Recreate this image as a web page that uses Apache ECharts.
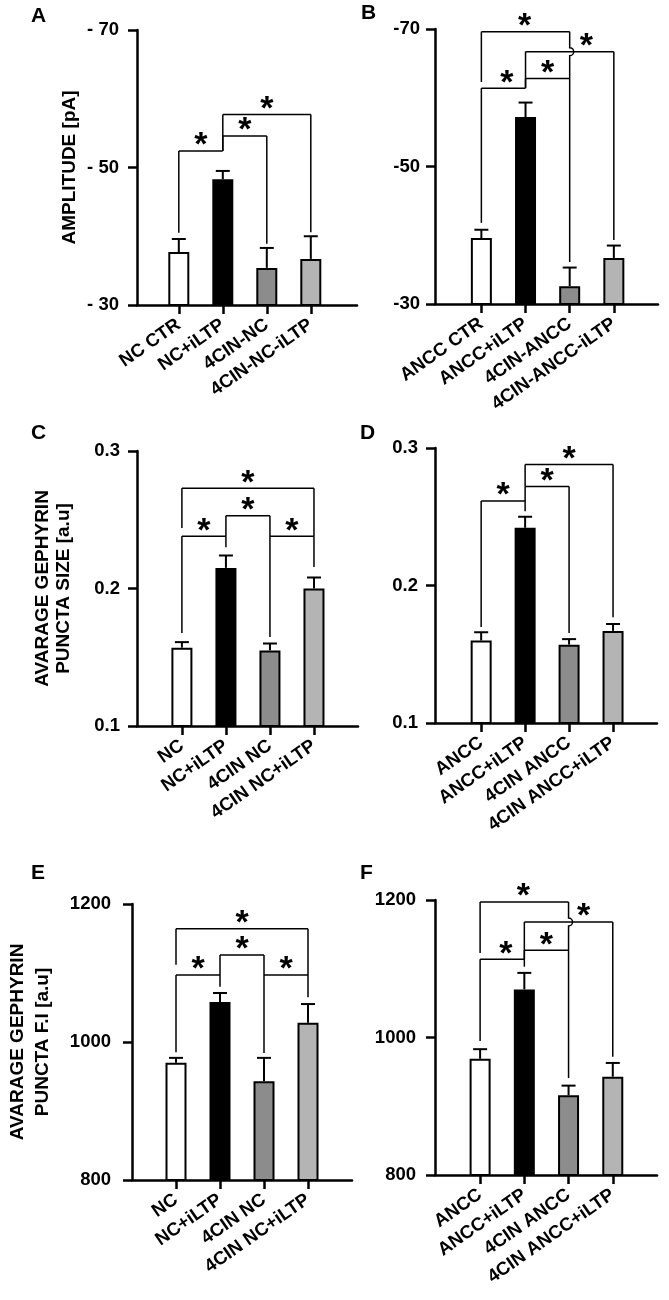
<!DOCTYPE html>
<html>
<head>
<meta charset="utf-8">
<script src="https://cdn.jsdelivr.net/npm/echarts@6.0.0/dist/echarts.min.js"></script>
<style>
    html, body { margin: 0; padding: 0; background: #fff; }
    #chart { width: 669px; height: 1300px; }
</style>
</head>
<body>
<div id="chart"></div>
<script>
// ---- data ----
var catsA = ['NC CTR', 'NC+iLTP', '4CIN-NC', '4CIN-NC-iLTP'];
var meanA = [-37.7, -48.3, -35.4, -36.7];
var semA = [1.9, 1.2, 2.9, 3.3];
var ticksA = [-70, -50, -30];

var catsB = ['ANCC CTR', 'ANCC+iLTP', '4CIN-ANCC', '4CIN-ANCC-iLTP'];
var meanB = [-39.6, -57.2, -32.6, -36.7];
var semB = [1.2, 2.1, 2.7, 1.8];
var ticksB = [-70, -50, -30];

var catsC = ['NC', 'NC+iLTP', '4CIN NC', '4CIN NC+iLTP'];
var meanC = [0.157, 0.215, 0.155, 0.200];
var semC = [0.004, 0.009, 0.005, 0.008];
var ticksC = [0.1, 0.2, 0.3];

var catsD = ['ANCC', 'ANCC+iLTP', '4CIN ANCC', '4CIN ANCC+iLTP'];
var meanD = [0.160, 0.242, 0.157, 0.167];
var semD = [0.006, 0.008, 0.004, 0.005];
var ticksD = [0.1, 0.2, 0.3];

var catsE = ['NC', 'NC+iLTP', '4CIN NC', '4CIN NC+iLTP'];
var meanE = [970, 1058, 943, 1028];
var semE = [7, 13, 34, 27];
var ticksE = [800, 1000, 1200];

var catsF = ['ANCC', 'ANCC+iLTP', '4CIN ANCC', '4CIN ANCC+iLTP'];
var meanF = [969, 1070, 916, 943];
var semF = [14, 24, 14, 20];
var ticksF = [800, 1000, 1200];

// significance brackets: [from, to, level, fromLegEnd, toLegEnd, starAt]
var sigA = [[0, 1, -52.4, -40.5, -52.4, null], [1, 2, -54.6, -52.4, -38.9, null], [1, 3, -57.7, -52.4, -40.6, null]];
var sigB = [[0, 1, -61.4, -41.8, -61.4, 0.58], [1, 2, -62.8, -61.4, -36.1, null], [1, 3, -66.7, -61.4, -39.3, 2.38], [0, 2, -69.6, -62.3, -62.8, 0.98]];
var sigC = [[0, 1, 0.238, 0.1676, 0.230, null], [1, 2, 0.253, 0.238, 0.1647, null], [2, 3, 0.238, 0.238, 0.2156, null], [0, 3, 0.273, 0.244, 0.238, null]];
var sigD = [[0, 1, 0.2615, 0.1698, 0.254, null], [1, 2, 0.272, 0.2615, 0.1655, null], [1, 3, 0.288, 0.272, 0.177, null]];
var sigE = [[0, 1, 1097, 985, 1080, null], [1, 2, 1126, 1097, 984, null], [2, 3, 1097, 1097, 1065, null], [0, 3, 1164, 1112, 1097, null]];
var sigF = [[0, 1, 1114, 995, 1103, 0.58], [1, 2, 1127, 1114, 941, null], [1, 3, 1168, 1114, 972, 2.34], [0, 2, 1197, 1123, 1127, 0.98]];

(function () {
    var FONT = 'Liberation Sans, Arial, Helvetica, sans-serif';
    var barColors = ['#ffffff', '#000000', '#8c8c8c', '#b4b4b4'];
    var STAR_LIFT = 5;

    var panels = [
        { letter: 'A', lp: [31, 6], cats: catsA, mean: meanA, sem: semA, ticks: ticksA, sig: sigA,
          grid: { left: 137, top: 30, width: 220, height: 275 }, xr: [-0.95, 4.05], inverse: true,
          fmt: function (v) { return '- ' + Math.abs(v); }, lm: 18,
          name: 'AMPLITUDE [pA]', gap: 57, lh: 20 },
        { letter: 'B', lp: [361, 3], cats: catsB, mean: meanB, sem: semB, ticks: ticksB, sig: sigB,
          grid: { left: 435, top: 29, width: 223, height: 275 }, xr: [-1.05, 4.0], inverse: true,
          fmt: function (v) { return String(v); }, lm: 15 },
        { letter: 'C', lp: [31, 423], cats: catsC, mean: meanC, sem: semC, ticks: ticksC, sig: sigC,
          grid: { left: 137, top: 451, width: 221, height: 275 }, xr: [-1.02, 4.0], inverse: false,
          fmt: function (v) { return v.toFixed(1); }, lm: 17,
          name: 'AVARAGE GEPHYRIN\nPUNCTA SIZE [a.u]', gap: 63, lh: 21 },
        { letter: 'D', lp: [360, 423], cats: catsD, mean: meanD, sem: semD, ticks: ticksD, sig: sigD,
          grid: { left: 435, top: 448, width: 222, height: 275 }, xr: [-1.05, 4.0], inverse: false,
          fmt: function (v) { return v.toFixed(1); }, lm: 17 },
        { letter: 'E', lp: [31, 863], cats: catsE, mean: meanE, sem: semE, ticks: ticksE, sig: sigE,
          grid: { left: 132, top: 904, width: 220, height: 276 }, xr: [-1, 4], inverse: false,
          fmt: function (v) { return String(v); }, lm: 21,
          name: 'AVARAGE GEPHYRIN\nPUNCTA F.I [a.u]', gap: 77, lh: 25 },
        { letter: 'F', lp: [360, 863], cats: catsF, mean: meanF, sem: semF, ticks: ticksF, sig: sigF,
          grid: { left: 435, top: 900, width: 222, height: 275 }, xr: [-1.02, 4.0], inverse: false,
          fmt: function (v) { return String(v); }, lm: 19 }
    ];

    var stroke = { stroke: '#000', lineWidth: 1.5, fill: null };

    function renderErr(params, api) {
        var x = api.value(0);
        var base = api.coord([x, api.value(1)]);
        var top = api.coord([x, api.value(2)]);
        return {
            type: 'group',
            children: [
                { type: 'line', shape: { x1: base[0], y1: base[1], x2: top[0], y2: top[1] }, style: { stroke: '#000', lineWidth: 2 } },
                { type: 'line', shape: { x1: top[0] - 7, y1: top[1], x2: top[0] + 7, y2: top[1] }, style: { stroke: '#000', lineWidth: 2 } }
            ]
        };
    }

    function bracketRenderer(sig) {
        return function (params, api) {
            var s = sig[params.dataIndex];
            var children = [];

            function leg(idx, fromVal, toVal) {
                var p1 = api.coord([idx, fromVal]);
                var p2 = api.coord([idx, toVal]);
                var lo = Math.min(p1[1], p2[1]), hi = Math.max(p1[1], p2[1]);
                var path = 'M' + p1[0] + ' ' + p1[1];
                var r = 4;
                sig.forEach(function (o) {
                    if (o === s || !(o[0] < idx && idx < o[1])) return;
                    var yc = api.coord([idx, o[2]])[1];
                    if (yc > lo + r && yc < hi - r) {
                        path += ' L' + p1[0] + ' ' + (yc - r) + ' A' + r + ' ' + r + ' 0 0 1 ' + p1[0] + ' ' + (yc + r);
                    }
                });
                path += ' L' + p2[0] + ' ' + p2[1];
                return { type: 'path', shape: { pathData: path }, style: stroke };
            }

            var pa = api.coord([s[0], s[2]]);
            var pb = api.coord([s[1], s[2]]);
            children.push(leg(s[0], s[2], s[3]));
            children.push({ type: 'line', shape: { x1: pa[0], y1: pa[1], x2: pb[0], y2: pb[1] }, style: stroke });
            children.push(leg(s[1], s[2], s[4]));

            var sx = s[5] != null ? s[5] : (s[0] + s[1]) / 2;
            var sp = api.coord([sx, s[2]]);
            children.push({
                type: 'text', x: sp[0], y: sp[1] - STAR_LIFT,
                style: { text: '*', fill: '#000', font: 'bold 34px ' + FONT, align: 'center', verticalAlign: 'middle' }
            });
            return { type: 'group', children: children };
        };
    }

    var option = {
        animation: false,
        backgroundColor: '#fff',
        textStyle: { fontFamily: FONT },
        title: [], grid: [], xAxis: [], yAxis: [], series: []
    };

    panels.forEach(function (p, k) {
        var sign = p.inverse ? -1 : 1;
        var idxs = p.cats.map(function (c, i) { return i; });

        option.title.push({
            text: p.letter, left: p.lp[0], top: p.lp[1], padding: 0,
            textStyle: { fontSize: 21, fontWeight: 'bold', color: '#000', fontFamily: FONT }
        });

        option.grid.push({
            left: p.grid.left, top: p.grid.top, width: p.grid.width, height: p.grid.height,
            containLabel: false, outerBoundsMode: 'none'
        });

        option.xAxis.push({
            type: 'value', gridIndex: k, min: p.xr[0], max: p.xr[1],
            axisLine: { show: true, onZero: false, lineStyle: { color: '#000', width: 2.5 } },
            axisTick: { show: true, customValues: idxs, length: 9, lineStyle: { color: '#000', width: 2.5 } },
            axisLabel: {
                customValues: idxs, rotate: 35, margin: 18,
                color: '#000', fontSize: 18.5, fontWeight: 'bold', fontFamily: FONT,
                formatter: function (v) { return p.cats[Math.round(v)]; }
            },
            splitLine: { show: false }
        });

        var yMin = Math.min.apply(null, p.ticks), yMax = Math.max.apply(null, p.ticks);
        option.yAxis.push({
            type: 'value', gridIndex: k, min: yMin, max: yMax, inverse: p.inverse,
            axisLine: { show: true, onZero: false, lineStyle: { color: '#000', width: 2.5 } },
            axisTick: { show: true, customValues: p.ticks, length: 9, lineStyle: { color: '#000', width: 2.5 } },
            axisLabel: {
                customValues: p.ticks, margin: p.lm,
                color: '#000', fontSize: 18.5, fontWeight: 'bold', fontFamily: FONT,
                formatter: p.fmt
            },
            splitLine: { show: false },
            name: p.name || '', nameLocation: 'middle', nameGap: p.gap || 0, nameRotate: 90,
            nameTextStyle: { color: '#000', fontSize: 19, fontWeight: 'bold', fontFamily: FONT, lineHeight: p.lh, align: 'center' }
        });

        option.series.push({
            type: 'bar', xAxisIndex: k, yAxisIndex: k, barWidth: 21, clip: true, silent: true,
            data: p.mean.map(function (v, i) {
                return { value: [i, v], itemStyle: { color: barColors[i] } };
            }),
            itemStyle: { borderColor: '#000', borderWidth: 2 }
        });

        option.series.push({
            type: 'custom', xAxisIndex: k, yAxisIndex: k, silent: true, clip: false,
            renderItem: renderErr,
            encode: { x: 0, y: [1, 2] },
            data: p.mean.map(function (v, i) { return [i, v, v + sign * p.sem[i]]; })
        });

        option.series.push({
            type: 'custom', xAxisIndex: k, yAxisIndex: k, silent: true, clip: false,
            renderItem: bracketRenderer(p.sig),
            encode: { x: 0, y: 2 },
            data: p.sig.map(function (s) { return [s[0], s[1], s[2]]; })
        });
    });

    var chart = echarts.init(document.getElementById('chart'), null, { renderer: 'canvas' });
    chart.setOption(option);
})();
</script>
</body>
</html>
